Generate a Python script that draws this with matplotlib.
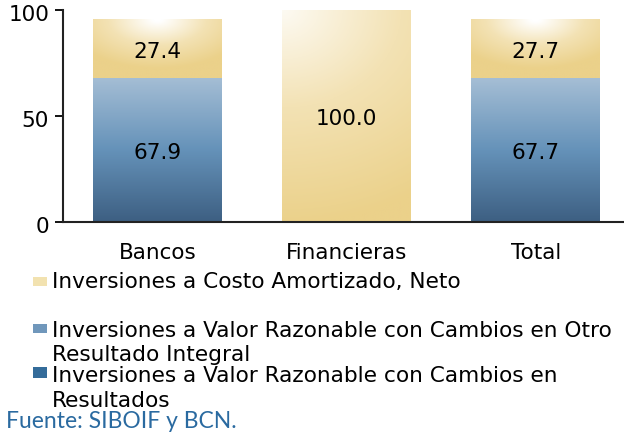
import numpy as np
import matplotlib.pyplot as plt
import matplotlib.transforms as mtransforms
from matplotlib.colors import LinearSegmentedColormap
from matplotlib.patches import Rectangle

categories = ["Bancos", "Financieras", "Total"]
ori_values = [67.9, 0.0, 67.7]      # Valor Razonable con Cambios en ORI
costo_values = [27.4, 100.0, 27.7]  # Costo Amortizado, Neto
res_values = [0.0, 0.0, 0.0]        # Valor Razonable con Cambios en Resultados

legend_labels = [
    ["Inversiones a Costo Amortizado, Neto"],
    ["Inversiones a Valor Razonable con Cambios en Otro", "Resultado Integral"],
    ["Inversiones a Valor Razonable con Cambios en", "Resultados"],
]

plt.rcParams['font.family'] = ['DejaVu Sans']
FS = 15.5
FS_LEG = 15.6

blue_cmap = LinearSegmentedColormap.from_list(
    "blue", ["#3d5f82", "#6592b9", "#a5bed5"])
gold_cmap = LinearSegmentedColormap.from_list(
    "gold", ["#ebd18a", "#f3e2b4", "#ffffff"])

fig = plt.figure(figsize=(6.24, 4.33), dpi=100)
ax = fig.add_axes([0.101, 0.487, 0.909, 0.490])

x = np.arange(len(categories))
w = 0.68
bars_ori = ax.bar(x, ori_values, w, color="none", zorder=2)
bars_cost = ax.bar(x, costo_values, w, bottom=ori_values, color="none", zorder=2)
bars_res = ax.bar(x, res_values, w,
                  bottom=np.array(ori_values) + np.array(costo_values),
                  color="#3a6f9a", zorder=2)

# vertical gradient for the blue segments
vgrad = np.linspace(0, 1, 256).reshape(-1, 1)
for b in bars_ori:
    if b.get_height() <= 0:
        continue
    x0, y0 = b.get_x(), b.get_y()
    ax.imshow(vgrad, cmap=blue_cmap, origin="lower", aspect="auto",
              extent=[x0, x0 + b.get_width(), y0, y0 + b.get_height()], zorder=1)

# radial-ish gradient for the gold segments
for b in bars_cost:
    x0, y0, bw, bh = b.get_x(), b.get_y(), b.get_width(), b.get_height()
    if bh > 90:
        yy, xx = np.mgrid[0:1:200j, 0:1:200j]
        d = np.sqrt((xx * 0.5) ** 2 + (1 - yy) ** 2) / 1.1
        img = np.clip(0.92 - d, 0, 1)
    else:
        yy, xx = np.mgrid[0:1:120j, 0:1:200j]
        d = np.sqrt(((xx - 0.5) * 1.15) ** 2 + ((1 - yy) * 1.0) ** 2)
        img = np.clip(1.05 - d * 1.25, 0, 1)
    ax.imshow(img, cmap=gold_cmap, origin="lower", aspect="auto", vmin=0, vmax=1,
              extent=[x0, x0 + bw, y0, y0 + bh], zorder=1)

# labels sit a few pixels below the exact centre in the original
down = mtransforms.ScaledTranslation(0, -3 / 100, fig.dpi_scale_trans)
for bars, vals in [(bars_ori, ori_values), (bars_cost, costo_values)]:
    for b, v in zip(bars, vals):
        if v <= 0:
            continue
        ax.text(b.get_x() + b.get_width() / 2, b.get_y() + b.get_height() / 2,
                f"{v:.1f}", ha="center", va="center", fontsize=FS, zorder=3,
                transform=ax.transData + down)

ax.set_xlim(-0.5, 2.5)
ax.set_ylim(0, 100)
ax.set_yticks([0, 50, 100])
ax.set_xticks(x)
ax.set_xticklabels(categories)
ax.tick_params(axis="x", length=0, pad=15, labelsize=FS)
ax.tick_params(axis="y", length=6, width=1.3, labelsize=FS, direction="out", pad=4)
for lbl in ax.get_yticklabels():
    lbl.set_transform(lbl.get_transform() + down)
for s in ["top", "right"]:
    ax.spines[s].set_visible(False)
for s in ["left", "bottom"]:
    ax.spines[s].set_linewidth(1.5)
    ax.spines[s].set_color("#222222")

# legend drawn by hand below the axes
H = 433.0
W = 624.0
baselines = [[288], [337, 361], [382, 407]]
marker_box = [(277, 286), (324, 333), (367, 378)]
legend_face = ["#f2e2b0", "#7097bb", "#346c9a"]
for lines, bl, (mt, mb), fc, in zip(legend_labels, baselines, marker_box, legend_face):
    fig.patches.append(Rectangle((33 / W, 1 - mb / H), 14 / W, (mb - mt) / H,
                                 transform=fig.transFigure, facecolor=fc,
                                 edgecolor="none"))
    for txt, b in zip(lines, bl):
        fig.text(52 / W, 1 - b / H, txt, fontsize=FS_LEG, va="baseline", ha="left")

fig.text(6 / W, 1 - 428 / H, "Fuente: SIBOIF y BCN.", fontsize=16.5,
         color="#2a6aa0", va="baseline", ha="left", family=["Lato", "DejaVu Sans"])

fig.savefig("out.png", dpi=100)
